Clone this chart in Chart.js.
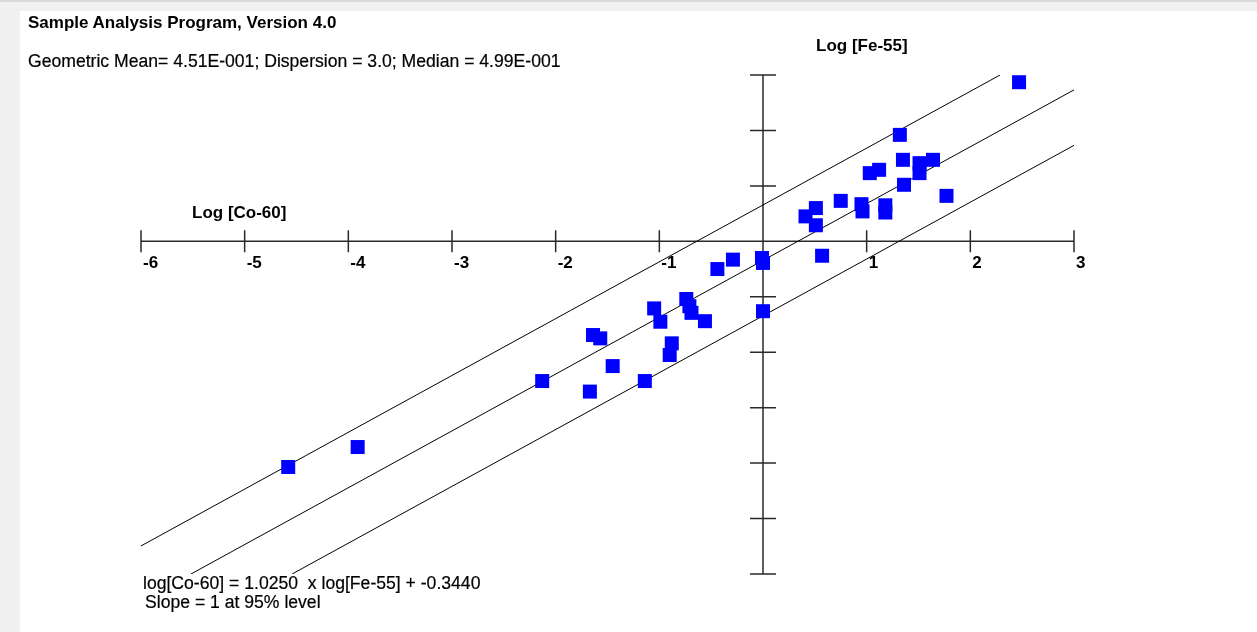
<!DOCTYPE html>
<html>
<head>
<meta charset="utf-8">
<script src="https://cdn.jsdelivr.net/npm/chart.js@4.4.1/dist/chart.umd.min.js"></script>
<style>
    html, body { margin: 0; padding: 0; }
    body {
        width: 1257px; height: 632px; overflow: hidden; position: relative;
        background: #f0f0f0; color: #000;
        font-family: "Liberation Sans", Arial, sans-serif; font-size: 17.6px;
    }
    #topline { position: absolute; left: 0; top: 0; width: 1257px; height: 2px; background: #dadada; }
    #panel { position: absolute; left: 20px; top: 11px; right: 0; bottom: 0; background: #fff; }
    #chart { position: absolute; left: 0; top: 0; }
    .txt { position: absolute; line-height: 17px; white-space: pre; -webkit-text-stroke: 0.2px #000; }
    .b { font-weight: bold; font-size: 17px; -webkit-text-stroke: 0; }
</style>
</head>
<body>
<div id="topline"></div>
<div id="panel"></div>
<canvas id="chart" width="1257" height="632"></canvas>
<div class="txt b" style="left:28px; top:14px;">Sample Analysis Program, Version 4.0</div>
<div class="txt" style="left:28px; top:53px;">Geometric Mean= 4.51E-001; Dispersion = 3.0; Median = 4.99E-001</div>
<div class="txt b" style="left:816px; top:37px;">Log [Fe-55]</div>
<div class="txt b" style="left:192px; top:204px;">Log [Co-60]</div>
<div class="txt" style="left:143px; top:575px;">log[Co-60] = 1.0250  x log[Fe-55] + -0.3440</div>
<div class="txt" style="left:145px; top:594px;">Slope = 1 at 95% level</div>
<script>
// measured samples (horizontal = log Co-60, vertical = log Fe-55)
const logCo60 = [
    2.47, 1.32, 1.35, 1.51, 1.64, 1.51, 1.12, 1.03, 1.36, 1.77,
    0.75, 0.95, 0.96, 1.18, 1.18, 0.51, 0.41, 0.51, 0.57, -0.01,
    0.00, -0.29, -0.44, -0.74, -0.71, -0.69, -0.56, -1.05, -0.99, 0.00,
    -1.64, -1.57, -0.88, -0.90, -1.45, -2.13, -1.14, -1.67, -3.91, -4.58,
];
const logFe55 = [
    2.87, 1.92, 1.47, 1.41, 1.47, 1.23, 1.29, 1.23, 1.02, 0.82,
    0.73, 0.67, 0.54, 0.65, 0.52, 0.60, 0.45, 0.29, -0.26, -0.30,
    -0.39, -0.33, -0.50, -1.04, -1.17, -1.29, -1.44, -1.21, -1.45, -1.26,
    -1.69, -1.75, -1.84, -2.05, -2.25, -2.52, -2.52, -2.71, -3.71, -4.07,
];

// fit line and the band around it
const slope = 1.025;
const intercept = -0.344;
const bandOffsets = [1.0, 0, -1.0];

// axis ranges and ticks
const xMin = -6, xMax = 3, yMin = -6, yMax = 3;
const xTicks = [-6, -5, -4, -3, -2, -1, 0, 1, 2, 3];
const xTickLabels = ["-6", "-5", "-4", "-3", "-2", "-1", "", "1", "2", "3"];
const yTicks = [-6, -5, -4, -3, -2, -1, 1, 2, 3];

// clip a fit line to the plotting box
function bandLine(offset) {
    const b = intercept + offset;
    const eps = 1e-9;
    const cands = [
        { x: xMin, y: slope * xMin + b },
        { x: xMax, y: slope * xMax + b },
        { x: (yMin - b) / slope, y: yMin },
        { x: (yMax - b) / slope, y: yMax },
    ].filter(p => p.x >= xMin - eps && p.x <= xMax + eps && p.y >= yMin - eps && p.y <= yMax + eps);
    cands.sort((a, c) => a.x - c.x);
    return [cands[0], cands[cands.length - 1]];
}

const crossAxes = {
    id: "crossAxes",
    beforeDatasetsDraw(chart) {
        const { ctx, scales: { x, y } } = chart;
        const x0 = x.getPixelForValue(0);
        const y0 = y.getPixelForValue(0);
        ctx.save();
        ctx.strokeStyle = "#2a2a2a";
        ctx.lineWidth = 1.5;
        ctx.beginPath();
        ctx.moveTo(x.getPixelForValue(xMin), y0);
        ctx.lineTo(x.getPixelForValue(xMax), y0);
        ctx.moveTo(x0, y.getPixelForValue(yMax));
        ctx.lineTo(x0, y.getPixelForValue(yMin));
        xTicks.forEach(v => {
            const px = x.getPixelForValue(v);
            ctx.moveTo(px, y0 - 11);
            ctx.lineTo(px, y0 + 11);
        });
        yTicks.forEach(v => {
            const py = y.getPixelForValue(v);
            ctx.moveTo(x0 - 13, py);
            ctx.lineTo(x0 + 13, py);
        });
        ctx.stroke();

        ctx.fillStyle = "#000";
        ctx.font = 'bold 17px "Liberation Sans", Arial, sans-serif';
        ctx.textAlign = "left";
        ctx.textBaseline = "alphabetic";
        xTicks.forEach((v, i) => {
            ctx.fillText(xTickLabels[i], x.getPixelForValue(v) + 2, y0 + 27);
        });
        ctx.restore();
    },
};

const datasets = [
    {
        type: "scatter",
        label: "samples",
        data: logCo60.map((v, i) => ({ x: v, y: logFe55[i] })),
        pointStyle: "rect",
        pointRadius: 9.9,
        pointBackgroundColor: "#0000ff",
        pointBorderWidth: 0,
        order: 0,
        clip: false,
    },
];
bandOffsets.forEach(off => {
    datasets.push({
        type: "line",
        label: "fit " + off,
        data: bandLine(off),
        borderColor: "#000",
        borderWidth: 1,
        pointRadius: 0,
        fill: false,
        tension: 0,
        order: 1,
    });
});

new Chart(document.getElementById("chart"), {
    type: "scatter",
    data: { datasets: datasets },
    options: {
        responsive: false,
        animation: false,
        devicePixelRatio: 1,
        events: [],
        layout: { padding: { left: 141, right: 183, top: 75, bottom: 58 } },
        scales: {
            x: { type: "linear", min: xMin, max: xMax, display: false },
            y: { type: "linear", min: yMin, max: yMax, display: false },
        },
        plugins: {
            legend: { display: false },
            tooltip: { enabled: false },
            title: { display: false },
        },
    },
    plugins: [crossAxes],
});
</script>
</body>
</html>
